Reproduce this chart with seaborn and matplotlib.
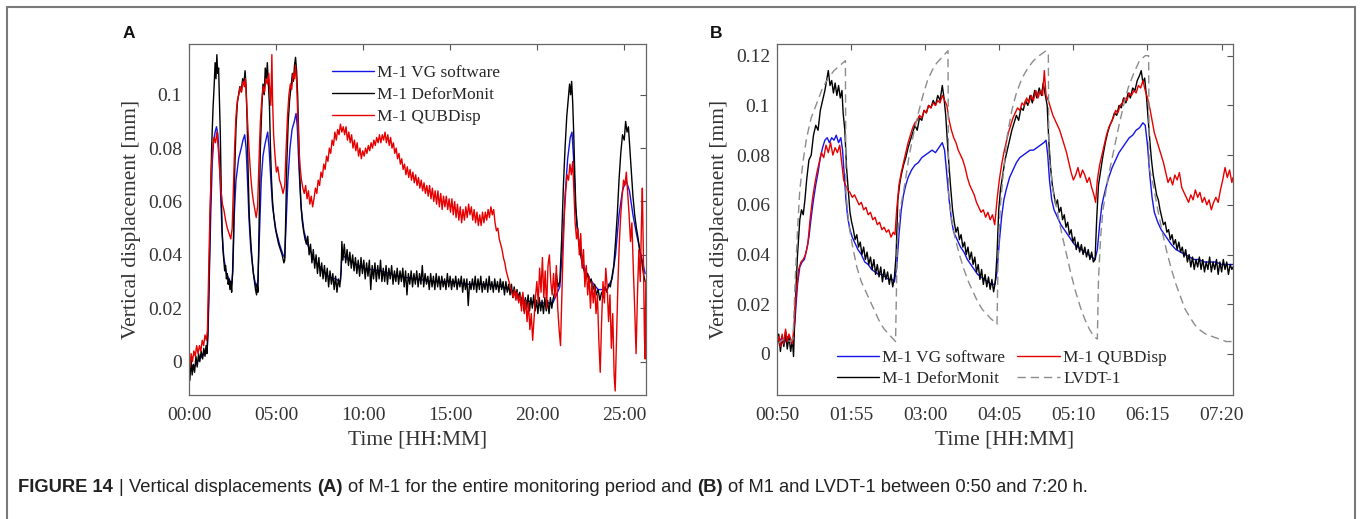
import numpy as np
import pandas as pd
import matplotlib
matplotlib.use("Agg")
import matplotlib.pyplot as plt
from matplotlib.patches import Rectangle
from matplotlib.offsetbox import TextArea, HPacker, AnnotationBbox
import seaborn as sns

# ------------------------------------------------------------
# data
# panel A: time in hours since start, displacement in mm
# ------------------------------------------------------------
A_SERIES = ["M-1 VG software", "M-1 DeforMonit", "M-1 QUBDisp"]

a_vg = [
    (0.00, -0.001), (0.30, -0.002), (0.60, 0.001), (0.90, 0.003), (1.05, 0.005), (1.10, 0.012),
    (1.18, 0.035), (1.26, 0.058), (1.34, 0.075), (1.42, 0.083), (1.50, 0.086), (1.58, 0.088),
    (1.66, 0.085), (1.74, 0.076), (1.82, 0.062), (1.90, 0.048), (2.00, 0.039), (2.15, 0.033),
    (2.30, 0.031), (2.45, 0.029), (2.52, 0.034), (2.60, 0.055), (2.70, 0.068), (2.85, 0.076),
    (3.00, 0.080), (3.10, 0.083), (3.20, 0.085), (3.28, 0.080), (3.36, 0.068), (3.45, 0.053),
    (3.55, 0.042), (3.70, 0.033), (3.85, 0.028), (3.95, 0.030), (4.05, 0.048), (4.15, 0.068),
    (4.25, 0.077), (4.35, 0.081), (4.45, 0.084), (4.52, 0.086), (4.60, 0.080), (4.70, 0.068),
    (4.80, 0.058), (5.00, 0.049), (5.20, 0.044), (5.40, 0.040), (5.50, 0.039), (5.58, 0.052),
    (5.68, 0.068), (5.80, 0.080), (5.92, 0.087), (6.05, 0.090), (6.15, 0.093), (6.22, 0.088),
    (6.32, 0.072), (6.45, 0.057), (6.60, 0.049), (6.80, 0.044), (7.20, 0.038), (7.60, 0.035),
    (8.00, 0.032), (8.40, 0.031), (8.70, 0.030), (8.78, 0.040), (9.20, 0.038), (10.0, 0.035),
    (11.0, 0.034), (12.0, 0.032), (13.0, 0.031), (14.0, 0.030), (15.0, 0.030), (16.0, 0.029),
    (17.0, 0.029), (18.0, 0.028), (18.8, 0.026), (19.2, 0.023), (20.0, 0.022), (20.9, 0.022),
    (21.3, 0.028), (21.45, 0.042), (21.60, 0.062), (21.75, 0.076), (21.90, 0.084), (22.00, 0.086),
    (22.10, 0.075), (22.20, 0.058), (22.35, 0.047), (22.60, 0.037), (23.00, 0.031), (23.50, 0.027),
    (24.00, 0.027), (24.30, 0.031), (24.50, 0.040), (24.70, 0.055), (24.90, 0.064), (25.10, 0.068),
    (25.30, 0.064), (25.50, 0.055), (25.70, 0.048), (26.00, 0.039), (26.20, 0.033),
]

a_defor = [
    (0.00, -0.002), (0.05, -0.007), (0.12, 0.001), (0.18, -0.005), (0.25, -0.001), (0.32, -0.004),
    (0.40, 0.002), (0.47, -0.002), (0.55, 0.003), (0.62, 0.000), (0.70, 0.004), (0.78, 0.001),
    (0.85, 0.005), (0.92, 0.002), (0.98, 0.006), (1.03, 0.003),
    (1.08, 0.010), (1.15, 0.030), (1.22, 0.055), (1.30, 0.080), (1.38, 0.095), (1.45, 0.104),
    (1.50, 0.112), (1.55, 0.106), (1.60, 0.115), (1.65, 0.108), (1.70, 0.110), (1.75, 0.098),
    (1.80, 0.085), (1.85, 0.065), (1.90, 0.050), (1.95, 0.042), (2.00, 0.038), (2.05, 0.034),
    (2.10, 0.036), (2.15, 0.031), (2.20, 0.033), (2.25, 0.029), (2.30, 0.031), (2.35, 0.027),
    (2.40, 0.030), (2.45, 0.026), (2.50, 0.033),
    (2.55, 0.045), (2.62, 0.070), (2.70, 0.088), (2.78, 0.097), (2.85, 0.100), (2.92, 0.103),
    (3.00, 0.101), (3.08, 0.106), (3.15, 0.104), (3.22, 0.109), (3.28, 0.103), (3.34, 0.090),
    (3.40, 0.070), (3.46, 0.055), (3.52, 0.048), (3.58, 0.042), (3.64, 0.037), (3.70, 0.033),
    (3.76, 0.030), (3.82, 0.027), (3.88, 0.025), (3.92, 0.029), (3.96, 0.026),
    (4.02, 0.050), (4.10, 0.080), (4.18, 0.095), (4.25, 0.104), (4.32, 0.100), (4.38, 0.110),
    (4.44, 0.106), (4.50, 0.112), (4.56, 0.104), (4.62, 0.096), (4.68, 0.080), (4.74, 0.068),
    (4.80, 0.060), (4.88, 0.054), (4.96, 0.050), (5.05, 0.047), (5.15, 0.044), (5.25, 0.042),
    (5.35, 0.040), (5.45, 0.037), (5.50, 0.038),
    (5.56, 0.055), (5.62, 0.075), (5.70, 0.090), (5.78, 0.098), (5.86, 0.103), (5.94, 0.108),
    (6.00, 0.105), (6.06, 0.111), (6.12, 0.114), (6.18, 0.109), (6.24, 0.100), (6.30, 0.085),
    (6.36, 0.070), (6.42, 0.060), (6.50, 0.053), (6.58, 0.049), (6.66, 0.046), (6.74, 0.044),
    (6.82, 0.047), (6.90, 0.040), (6.98, 0.044), (7.06, 0.037), (7.14, 0.042), (7.22, 0.035),
    (7.30, 0.040), (7.38, 0.033), (7.46, 0.039), (7.54, 0.032), (7.62, 0.037), (7.70, 0.031),
    (7.78, 0.036), (7.86, 0.030), (7.94, 0.035), (8.02, 0.028), (8.10, 0.034), (8.18, 0.029),
    (8.26, 0.033), (8.34, 0.027), (8.42, 0.032), (8.50, 0.026), (8.58, 0.031), (8.66, 0.028),
    (8.74, 0.034), (8.78, 0.045), (8.84, 0.038), (8.92, 0.044), (9.00, 0.037), (9.08, 0.042),
    (9.16, 0.036), (9.24, 0.041), (9.32, 0.035), (9.40, 0.040), (9.48, 0.034), (9.56, 0.039),
    (9.64, 0.033), (9.72, 0.038), (9.80, 0.032), (9.88, 0.039), (9.96, 0.033), (10.04, 0.038),
    (10.12, 0.031), (10.20, 0.037), (10.28, 0.032), (10.36, 0.038), (10.44, 0.027), (10.52, 0.036),
    (10.60, 0.031), (10.68, 0.037), (10.76, 0.030), (10.84, 0.036), (10.92, 0.031), (11.00, 0.038),
    (11.08, 0.030), (11.16, 0.035), (11.24, 0.030), (11.32, 0.036), (11.40, 0.029), (11.48, 0.035),
    (11.56, 0.031), (11.64, 0.036), (11.72, 0.029), (11.80, 0.034), (11.88, 0.030), (11.96, 0.035),
    (12.04, 0.029), (12.12, 0.034), (12.20, 0.030), (12.28, 0.035), (12.36, 0.028), (12.44, 0.034),
    (12.52, 0.025), (12.60, 0.033), (12.68, 0.029), (12.76, 0.034), (12.84, 0.028), (12.92, 0.033),
    (13.00, 0.029), (13.08, 0.034), (13.16, 0.028), (13.24, 0.033), (13.32, 0.029), (13.40, 0.036),
    (13.48, 0.028), (13.56, 0.033), (13.64, 0.029), (13.72, 0.032), (13.80, 0.027), (13.88, 0.033),
    (13.96, 0.028), (14.04, 0.032), (14.12, 0.027), (14.20, 0.033), (14.28, 0.028), (14.36, 0.032),
    (14.44, 0.027), (14.52, 0.032), (14.60, 0.028), (14.68, 0.031), (14.76, 0.027), (14.84, 0.033),
    (14.92, 0.028), (15.00, 0.032), (15.08, 0.027), (15.16, 0.031), (15.24, 0.028), (15.32, 0.032),
    (15.40, 0.027), (15.48, 0.031), (15.56, 0.028), (15.64, 0.032), (15.72, 0.026), (15.80, 0.031),
    (15.88, 0.027), (15.96, 0.031), (16.04, 0.021), (16.12, 0.030), (16.20, 0.027), (16.28, 0.031),
    (16.36, 0.027), (16.44, 0.032), (16.52, 0.026), (16.60, 0.031), (16.68, 0.027), (16.76, 0.032),
    (16.84, 0.026), (16.92, 0.030), (17.00, 0.027), (17.08, 0.031), (17.16, 0.026), (17.24, 0.032),
    (17.32, 0.027), (17.40, 0.030), (17.48, 0.026), (17.56, 0.031), (17.64, 0.027), (17.72, 0.030),
    (17.80, 0.026), (17.88, 0.031), (17.96, 0.027), (18.04, 0.030), (18.12, 0.025), (18.20, 0.030),
    (18.28, 0.026), (18.36, 0.029), (18.44, 0.025), (18.52, 0.029), (18.60, 0.024), (18.68, 0.028),
    (18.76, 0.024), (18.84, 0.027), (18.92, 0.023), (19.00, 0.026), (19.08, 0.021), (19.16, 0.025),
    (19.24, 0.019), (19.32, 0.024), (19.40, 0.020), (19.48, 0.025), (19.56, 0.019), (19.64, 0.024),
    (19.72, 0.020), (19.80, 0.025), (19.88, 0.019), (19.96, 0.023), (20.04, 0.018), (20.12, 0.024),
    (20.20, 0.019), (20.28, 0.023), (20.36, 0.018), (20.44, 0.024), (20.52, 0.019), (20.60, 0.023),
    (20.68, 0.018), (20.76, 0.024), (20.84, 0.020), (20.90, 0.023), (21.00, 0.026), (21.10, 0.033),
    (21.20, 0.028), (21.30, 0.030),
    (21.40, 0.045), (21.50, 0.065), (21.60, 0.080), (21.70, 0.092), (21.78, 0.098), (21.86, 0.104),
    (21.92, 0.100), (21.98, 0.105), (22.04, 0.097), (22.10, 0.085), (22.16, 0.070), (22.22, 0.058),
    (22.30, 0.050), (22.40, 0.044), (22.50, 0.040), (22.60, 0.036), (22.70, 0.034), (22.80, 0.031),
    (22.90, 0.033), (23.00, 0.029), (23.10, 0.031), (23.20, 0.027), (23.30, 0.029), (23.40, 0.025),
    (23.50, 0.027), (23.60, 0.023), (23.70, 0.026), (23.80, 0.024), (23.90, 0.028), (24.00, 0.026),
    (24.10, 0.029), (24.20, 0.028), (24.30, 0.032), (24.40, 0.036), (24.50, 0.045), (24.60, 0.055),
    (24.70, 0.068), (24.80, 0.078), (24.90, 0.085), (25.00, 0.083), (25.08, 0.090), (25.16, 0.086),
    (25.24, 0.088), (25.32, 0.080), (25.40, 0.072), (25.50, 0.062), (25.60, 0.055), (25.70, 0.050),
    (25.80, 0.046), (25.90, 0.041), (26.00, 0.038), (26.10, 0.033), (26.20, 0.030),
]

a_qub = [
    (0.00, 0.001), (0.06, -0.002), (0.12, 0.003), (0.20, 0.000), (0.28, 0.004), (0.36, 0.002),
    (0.44, 0.006), (0.52, 0.003), (0.60, 0.006), (0.68, 0.004), (0.76, 0.008), (0.84, 0.006),
    (0.92, 0.010), (1.00, 0.008), (1.06, 0.012),
    (1.12, 0.030), (1.20, 0.055), (1.28, 0.072), (1.36, 0.080), (1.44, 0.084), (1.52, 0.082),
    (1.60, 0.086), (1.68, 0.080), (1.76, 0.072), (1.84, 0.064), (1.92, 0.059), (2.00, 0.057),
    (2.10, 0.053), (2.20, 0.050), (2.30, 0.048), (2.40, 0.046), (2.48, 0.050),
    (2.55, 0.065), (2.62, 0.080), (2.70, 0.092), (2.78, 0.098), (2.86, 0.100), (2.94, 0.103),
    (3.02, 0.101), (3.10, 0.105), (3.18, 0.103), (3.24, 0.106), (3.30, 0.098), (3.38, 0.088),
    (3.46, 0.078), (3.54, 0.070), (3.62, 0.064), (3.70, 0.060), (3.78, 0.057), (3.86, 0.054),
    (3.94, 0.058),
    (4.02, 0.075), (4.10, 0.090), (4.18, 0.098), (4.26, 0.103), (4.34, 0.101), (4.42, 0.106),
    (4.50, 0.104), (4.58, 0.108), (4.64, 0.102), (4.70, 0.096), (4.76, 0.115), (4.80, 0.098),
    (4.86, 0.085), (4.94, 0.077), (5.02, 0.071), (5.10, 0.073), (5.20, 0.068), (5.30, 0.066),
    (5.40, 0.063), (5.50, 0.066),
    (5.58, 0.080), (5.66, 0.092), (5.74, 0.100), (5.82, 0.104), (5.90, 0.102), (5.98, 0.108),
    (6.06, 0.106), (6.12, 0.111), (6.18, 0.105), (6.24, 0.094), (6.30, 0.082), (6.38, 0.073),
    (6.46, 0.068), (6.54, 0.065), (6.62, 0.063), (6.70, 0.066), (6.78, 0.061), (6.86, 0.064),
    (6.94, 0.059), (7.02, 0.062), (7.10, 0.058), (7.18, 0.061), (7.26, 0.065), (7.34, 0.063),
    (7.42, 0.068), (7.50, 0.066), (7.58, 0.071), (7.66, 0.069), (7.74, 0.074), (7.82, 0.072),
    (7.90, 0.077), (7.98, 0.075), (8.06, 0.080), (8.14, 0.078), (8.22, 0.083), (8.30, 0.081),
    (8.38, 0.086), (8.46, 0.083), (8.54, 0.087), (8.62, 0.085), (8.70, 0.089), (8.78, 0.086),
    (8.86, 0.088), (8.94, 0.085), (9.02, 0.088), (9.10, 0.083), (9.18, 0.086), (9.26, 0.082),
    (9.34, 0.085), (9.42, 0.080), (9.50, 0.083), (9.58, 0.079), (9.66, 0.082), (9.74, 0.077),
    (9.82, 0.080), (9.90, 0.076), (9.98, 0.079), (10.06, 0.077), (10.14, 0.080), (10.22, 0.078),
    (10.30, 0.081), (10.38, 0.079), (10.46, 0.082), (10.54, 0.080), (10.62, 0.083), (10.70, 0.081),
    (10.78, 0.084), (10.86, 0.082), (10.94, 0.085), (11.02, 0.082), (11.10, 0.085), (11.18, 0.083),
    (11.26, 0.086), (11.34, 0.082), (11.42, 0.085), (11.50, 0.081), (11.58, 0.084), (11.66, 0.080),
    (11.74, 0.082), (11.82, 0.078), (11.90, 0.080), (11.98, 0.076), (12.06, 0.078), (12.14, 0.074),
    (12.22, 0.076), (12.30, 0.072), (12.38, 0.074), (12.46, 0.070), (12.54, 0.073), (12.62, 0.069),
    (12.70, 0.072), (12.78, 0.068), (12.86, 0.071), (12.94, 0.067), (13.02, 0.070), (13.10, 0.066),
    (13.18, 0.069), (13.26, 0.065), (13.34, 0.068), (13.42, 0.064), (13.50, 0.067), (13.58, 0.063),
    (13.66, 0.066), (13.74, 0.062), (13.82, 0.066), (13.90, 0.061), (13.98, 0.065), (14.06, 0.060),
    (14.14, 0.064), (14.22, 0.059), (14.30, 0.064), (14.38, 0.058), (14.46, 0.063), (14.54, 0.057),
    (14.62, 0.062), (14.70, 0.058), (14.78, 0.062), (14.86, 0.057), (14.94, 0.061), (15.02, 0.056),
    (15.10, 0.061), (15.18, 0.055), (15.26, 0.060), (15.34, 0.054), (15.42, 0.059), (15.50, 0.053),
    (15.58, 0.058), (15.66, 0.052), (15.74, 0.057), (15.82, 0.053), (15.90, 0.058), (15.98, 0.054),
    (16.06, 0.059), (16.14, 0.055), (16.22, 0.058), (16.30, 0.053), (16.38, 0.057), (16.46, 0.052),
    (16.54, 0.056), (16.62, 0.051), (16.70, 0.055), (16.78, 0.051), (16.86, 0.056), (16.94, 0.052),
    (17.02, 0.056), (17.10, 0.053), (17.18, 0.057), (17.26, 0.054), (17.34, 0.058), (17.42, 0.055),
    (17.50, 0.057), (17.58, 0.052), (17.66, 0.049), (17.74, 0.050), (17.82, 0.046), (17.90, 0.044),
    (17.98, 0.042), (18.06, 0.039), (18.14, 0.037), (18.22, 0.034), (18.30, 0.032), (18.38, 0.030),
    (18.46, 0.028), (18.54, 0.026), (18.62, 0.024), (18.70, 0.027), (18.78, 0.023), (18.86, 0.026),
    (18.94, 0.022), (19.02, 0.025), (19.10, 0.019), (19.18, 0.026), (19.26, 0.018), (19.34, 0.023),
    (19.42, 0.015), (19.50, 0.022), (19.58, 0.012), (19.66, 0.018), (19.74, 0.008), (19.82, 0.016),
    (19.90, 0.024), (19.98, 0.030), (20.06, 0.022), (20.14, 0.035), (20.22, 0.026), (20.30, 0.039),
    (20.38, 0.024), (20.46, 0.034), (20.54, 0.020), (20.62, 0.036), (20.70, 0.040), (20.78, 0.030),
    (20.86, 0.025), (20.94, 0.033), (21.02, 0.024), (21.10, 0.036), (21.18, 0.020), (21.26, 0.012),
    (21.34, 0.006), (21.40, 0.020), (21.48, 0.040), (21.56, 0.055), (21.64, 0.064), (21.72, 0.070),
    (21.80, 0.068), (21.88, 0.074), (21.96, 0.070), (22.04, 0.075), (22.10, 0.065), (22.18, 0.052),
    (22.26, 0.046), (22.34, 0.050), (22.42, 0.040), (22.50, 0.048), (22.58, 0.035), (22.66, 0.042),
    (22.74, 0.028), (22.82, 0.036), (22.90, 0.025), (22.98, 0.032), (23.06, 0.020), (23.14, 0.030),
    (23.22, 0.022), (23.30, 0.028), (23.38, 0.018), (23.46, 0.025), (23.54, 0.008), (23.62, -0.004),
    (23.70, 0.015), (23.78, 0.030), (23.86, 0.022), (23.94, 0.035), (24.02, 0.028), (24.10, 0.015),
    (24.18, 0.025), (24.26, 0.005), (24.34, 0.018), (24.42, -0.005), (24.48, -0.011), (24.56, 0.010),
    (24.64, 0.030), (24.72, 0.045), (24.80, 0.055), (24.88, 0.062), (24.96, 0.068), (25.04, 0.066),
    (25.12, 0.071), (25.20, 0.063), (25.28, 0.055), (25.36, 0.045), (25.44, 0.052), (25.52, 0.035),
    (25.60, 0.020), (25.68, 0.003), (25.76, 0.025), (25.84, 0.042), (25.92, 0.030), (26.00, 0.055),
    (26.04, 0.065), (26.10, 0.040), (26.16, 0.010), (26.20, 0.001), (26.24, 0.030),
]

a_xticks = [0, 5, 10, 15, 20, 25]
a_xticklabels = ["00:00", "05:00", "10:00", "15:00", "20:00", "25:00"]
a_yticks = [0, 0.02, 0.04, 0.06, 0.08, 0.1]
a_yticklabels = ["0", "0.02", "0.04", "0.06", "0.08", "0.1"]

# ------------------------------------------------------------
# panel B: time in minutes since 00:00
# ------------------------------------------------------------
B_SERIES = ["M-1 VG software", "M-1 DeforMonit", "M-1 QUBDisp", "LVDT-1"]

b_vg = [
    (50, 0.004), (53, 0.006), (56, 0.004), (59, 0.007), (62, 0.005), (64, 0.004), (66, 0.015),
    (68, 0.028), (70, 0.035), (72, 0.037), (74, 0.038), (76, 0.042), (78, 0.047), (80, 0.055),
    (82, 0.062), (84, 0.068), (86, 0.073), (88, 0.079), (90, 0.083), (92, 0.086), (94, 0.087),
    (96, 0.085), (98, 0.087), (100, 0.086), (102, 0.088), (104, 0.085), (106, 0.087), (107.5, 0.082),
    (109, 0.072), (110.5, 0.062), (112, 0.055), (114, 0.050), (116, 0.047), (118, 0.045), (121, 0.042),
    (124, 0.040), (127, 0.037), (130, 0.036), (133, 0.034), (136, 0.033), (139, 0.032), (142, 0.032),
    (145, 0.031), (148, 0.030), (151, 0.030), (153, 0.029), (155, 0.035), (157, 0.048), (159, 0.058),
    (161, 0.064), (163, 0.068), (165, 0.071), (168, 0.074), (171, 0.076), (174, 0.077), (177, 0.079),
    (180, 0.080), (183, 0.081), (186, 0.082), (189, 0.081), (192, 0.083), (195, 0.085), (197, 0.082),
    (199, 0.072), (201, 0.062), (203, 0.054), (205, 0.049), (208, 0.046), (211, 0.043), (214, 0.041),
    (217, 0.038), (220, 0.036), (223, 0.034), (226, 0.032), (229, 0.031), (232, 0.030), (235, 0.029),
    (238, 0.028), (241, 0.028), (243, 0.033), (245, 0.045), (247, 0.055), (249, 0.062), (251, 0.066),
    (254, 0.071), (257, 0.074), (260, 0.077), (263, 0.079), (266, 0.080), (269, 0.081), (272, 0.082),
    (275, 0.082), (278, 0.083), (281, 0.084), (284, 0.085), (286, 0.086), (287.5, 0.080), (289, 0.070),
    (291, 0.062), (293, 0.058), (296, 0.055), (299, 0.052), (302, 0.050), (305, 0.048), (308, 0.046),
    (311, 0.044), (314, 0.043), (317, 0.042), (320, 0.041), (323, 0.040), (326, 0.039), (329, 0.038),
    (331, 0.042), (333, 0.052), (335, 0.060), (338, 0.066), (341, 0.071), (344, 0.075), (347, 0.078),
    (350, 0.081), (353, 0.083), (356, 0.085), (359, 0.087), (362, 0.088), (365, 0.090), (368, 0.091),
    (371, 0.093), (373, 0.092), (375, 0.084), (377, 0.072), (379, 0.063), (381, 0.057), (384, 0.053),
    (387, 0.050), (390, 0.048), (393, 0.046), (396, 0.044), (400, 0.042), (404, 0.041), (408, 0.040),
    (412, 0.039), (416, 0.038), (420, 0.038), (425, 0.037), (430, 0.037), (435, 0.037), (440, 0.036),
    (445, 0.036), (450, 0.036),
]

b_defor = [
    (50, 0.002), (51.5, 0.008), (53, 0.001), (54.5, 0.007), (56, 0.003), (57.5, 0.009), (59, 0.002),
    (60.5, 0.007), (62, 0.001), (63.5, 0.006), (64.5, -0.001), (66, 0.020), (68, 0.040), (70, 0.054),
    (71.5, 0.058), (73, 0.056), (74.5, 0.062), (76, 0.070), (78, 0.078), (80, 0.080), (82, 0.088),
    (84, 0.092), (86, 0.090), (88, 0.098), (90, 0.102), (92, 0.106), (93.5, 0.110), (95, 0.114),
    (96.5, 0.108), (98, 0.110), (99.5, 0.105), (101, 0.109), (102.5, 0.104), (104, 0.108),
    (105.5, 0.103), (107, 0.106), (108, 0.097), (109.5, 0.090), (111, 0.075), (112.5, 0.066),
    (114, 0.057), (115.5, 0.053), (117, 0.050), (118.5, 0.046), (120, 0.048), (121.5, 0.043),
    (123, 0.045), (124.5, 0.040), (126, 0.043), (127.5, 0.038), (129, 0.041), (130.5, 0.036),
    (132, 0.039), (133.5, 0.034), (135, 0.038), (136.5, 0.032), (138, 0.036), (139.5, 0.031),
    (141, 0.035), (142.5, 0.029), (144, 0.034), (145.5, 0.030), (147, 0.033), (148.5, 0.028),
    (150, 0.032), (151.5, 0.027), (153, 0.031),
    (154.5, 0.040), (156, 0.062), (157.5, 0.068), (159, 0.072), (161, 0.076), (163, 0.079),
    (165, 0.083), (167, 0.086), (169, 0.089), (171, 0.092), (173, 0.090), (175, 0.095), (177, 0.094),
    (179, 0.098), (181, 0.097), (183, 0.100), (185, 0.099), (187, 0.102), (189, 0.100), (191, 0.104),
    (193, 0.102), (195, 0.108), (196.5, 0.103), (198, 0.096), (199.5, 0.085), (201, 0.075),
    (202.5, 0.066), (204, 0.058), (205.5, 0.053), (207, 0.049), (208.5, 0.051), (210, 0.046),
    (211.5, 0.048), (213, 0.043), (214.5, 0.045), (216, 0.040), (217.5, 0.043), (219, 0.038),
    (220.5, 0.041), (222, 0.036), (223.5, 0.039), (225, 0.033), (226.5, 0.036), (228, 0.030),
    (229.5, 0.034), (231, 0.028), (232.5, 0.032), (234, 0.027), (235.5, 0.031), (237, 0.026),
    (238.5, 0.030), (240, 0.025), (241.5, 0.029),
    (243, 0.040), (244.5, 0.058), (246, 0.066), (248, 0.072), (250, 0.078), (252, 0.082),
    (254, 0.086), (256, 0.090), (258, 0.093), (260, 0.096), (262, 0.094), (264, 0.099), (266, 0.098),
    (268, 0.102), (270, 0.100), (272, 0.104), (274, 0.101), (276, 0.106), (278, 0.103), (280, 0.107),
    (282, 0.104), (283.5, 0.109), (285, 0.105), (287, 0.100), (288.5, 0.085), (290, 0.075),
    (291.5, 0.068), (293, 0.064), (294.5, 0.060), (296, 0.062), (297.5, 0.057), (299, 0.059),
    (300.5, 0.054), (302, 0.056), (303.5, 0.051), (305, 0.053), (306.5, 0.048), (308, 0.050),
    (309.5, 0.045), (311, 0.047), (312.5, 0.042), (314, 0.045), (315.5, 0.041), (317, 0.044),
    (318.5, 0.040), (320, 0.043), (321.5, 0.039), (323, 0.042), (324.5, 0.038), (326, 0.041),
    (327.5, 0.037), (329, 0.038),
    (330.5, 0.055), (332, 0.068), (334, 0.074), (336, 0.080), (338, 0.085), (340, 0.089),
    (342, 0.092), (344, 0.094), (346, 0.097), (348, 0.096), (350, 0.100), (352, 0.099), (354, 0.103),
    (356, 0.101), (358, 0.105), (360, 0.103), (362, 0.107), (364, 0.106), (366, 0.110), (368, 0.112),
    (369.5, 0.114), (371, 0.109), (372.5, 0.111), (374, 0.104), (375.5, 0.095), (377, 0.086),
    (378.5, 0.078), (380, 0.072), (381.5, 0.068), (383, 0.064), (384.5, 0.062), (386, 0.058),
    (387.5, 0.055), (389, 0.052), (390.5, 0.053), (392, 0.049), (393.5, 0.050), (395, 0.046),
    (396.5, 0.048), (398, 0.044), (399.5, 0.046), (401, 0.042), (402.5, 0.045), (404, 0.041),
    (405.5, 0.043), (407, 0.039), (408.5, 0.042), (410, 0.037), (411.5, 0.040), (413, 0.035),
    (414.5, 0.039), (416, 0.034), (417.5, 0.038), (419, 0.035), (420.5, 0.039), (422, 0.034),
    (423.5, 0.038), (425, 0.033), (426.5, 0.037), (428, 0.034), (429.5, 0.039), (431, 0.033),
    (432.5, 0.037), (434, 0.034), (435.5, 0.038), (437, 0.032), (438.5, 0.037), (440, 0.033),
    (441.5, 0.038), (443, 0.034), (444.5, 0.037), (446, 0.032), (447.5, 0.036), (449, 0.034),
    (450, 0.035),
]

b_qub = [
    (50, 0.004), (51.5, 0.007), (53, 0.003), (54.5, 0.008), (56, 0.004), (57.5, 0.010), (59, 0.005),
    (60.5, 0.008), (62, 0.006), (63.5, 0.004), (65, 0.012), (67, 0.025), (69, 0.034), (71, 0.037),
    (73, 0.038), (75, 0.040), (77, 0.044), (79, 0.054), (81, 0.062), (83, 0.068), (85, 0.073),
    (87, 0.077), (89, 0.081), (91, 0.079), (93, 0.084), (95, 0.081), (97, 0.085), (99, 0.080),
    (101, 0.083), (103, 0.081), (105, 0.084), (107, 0.076), (108.5, 0.070), (110, 0.068),
    (112, 0.066), (114, 0.065), (116, 0.063), (118, 0.064), (120, 0.062), (122, 0.060), (124, 0.061),
    (126, 0.058), (128, 0.059), (130, 0.056), (132, 0.057), (134, 0.054), (136, 0.055), (138, 0.052),
    (140, 0.053), (142, 0.050), (144, 0.051), (146, 0.049), (148, 0.050), (150, 0.047), (152, 0.049),
    (153.5, 0.048),
    (155, 0.058), (157, 0.068), (159, 0.073), (161, 0.077), (163, 0.081), (165, 0.085), (167, 0.088),
    (169, 0.091), (171, 0.093), (173, 0.094), (175, 0.096), (177, 0.095), (179, 0.098), (181, 0.097),
    (183, 0.100), (185, 0.099), (187, 0.101), (189, 0.100), (191, 0.102), (193, 0.101), (195, 0.104),
    (197, 0.102), (199, 0.100), (201, 0.094), (203, 0.090), (205, 0.087), (207, 0.085), (209, 0.082),
    (211, 0.080), (213, 0.078), (215, 0.075), (217, 0.071), (219, 0.068), (221, 0.066), (223, 0.064),
    (225, 0.061), (227, 0.059), (229, 0.057), (231, 0.058), (233, 0.055), (235, 0.057), (237, 0.054),
    (239, 0.056), (241, 0.052),
    (243, 0.062), (245, 0.070), (247, 0.076), (249, 0.081), (251, 0.085), (253, 0.089), (255, 0.092),
    (257, 0.095), (259, 0.097), (261, 0.099), (263, 0.098), (265, 0.101), (267, 0.100), (269, 0.103),
    (271, 0.101), (273, 0.104), (275, 0.102), (277, 0.106), (279, 0.103), (281, 0.106), (283, 0.104),
    (284.5, 0.114), (286, 0.104), (288, 0.102), (290, 0.099), (292, 0.096), (294, 0.094), (296, 0.092),
    (298, 0.090), (300, 0.087), (302, 0.084), (304, 0.081), (306, 0.077), (308, 0.073), (310, 0.070),
    (312, 0.072), (314, 0.075), (316, 0.071), (318, 0.074), (320, 0.072), (322, 0.069), (324, 0.071),
    (326, 0.067), (328, 0.064), (329.5, 0.061),
    (331, 0.070), (333, 0.076), (335, 0.080), (337, 0.084), (339, 0.088), (341, 0.091), (343, 0.093),
    (345, 0.095), (347, 0.098), (349, 0.097), (351, 0.100), (353, 0.101), (355, 0.103), (357, 0.102),
    (359, 0.105), (361, 0.104), (363, 0.106), (365, 0.105), (367, 0.108), (369, 0.107), (371, 0.110),
    (373, 0.106), (375, 0.103), (377, 0.099), (379, 0.094), (381, 0.089), (383, 0.086), (385, 0.083),
    (387, 0.080), (389, 0.077), (391, 0.073), (393, 0.069), (395, 0.071), (397, 0.068), (399, 0.072),
    (401, 0.070), (403, 0.073), (405, 0.067), (407, 0.065), (409, 0.063), (411, 0.061), (413, 0.064),
    (415, 0.062), (417, 0.066), (419, 0.063), (421, 0.065), (423, 0.061), (425, 0.063), (427, 0.060),
    (429, 0.062), (431, 0.058), (433, 0.061), (435, 0.063), (437, 0.061), (439, 0.066), (441, 0.070),
    (443, 0.075), (445, 0.071), (447, 0.074), (449, 0.069), (450, 0.071),
]

b_lvdt = [
    (50, 0.004), (56, 0.006), (62, 0.005), (64, 0.006), (66, 0.030), (68, 0.050), (70, 0.066),
    (73, 0.078), (76, 0.087), (80, 0.095), (85, 0.101), (90, 0.107), (95, 0.111), (100, 0.114),
    (105, 0.116), (110, 0.118), (110.5, 0.065), (113, 0.052), (116, 0.044), (120, 0.035),
    (124, 0.029), (128, 0.025), (132, 0.021), (136, 0.017), (140, 0.013), (144, 0.010), (148, 0.008),
    (152, 0.006), (154, 0.005), (155.5, 0.045), (158, 0.058), (162, 0.068), (166, 0.080),
    (170, 0.089), (174, 0.097), (178, 0.104), (182, 0.110), (186, 0.114), (190, 0.117), (194, 0.119),
    (198, 0.121), (200, 0.122), (200.5, 0.065), (203, 0.055), (206, 0.047), (210, 0.040),
    (214, 0.034), (218, 0.029), (222, 0.025), (226, 0.021), (230, 0.018), (234, 0.016), (238, 0.014),
    (241, 0.013), (243, 0.012), (244, 0.040), (246, 0.060), (249, 0.075), (252, 0.088), (256, 0.098),
    (260, 0.105), (265, 0.111), (270, 0.115), (275, 0.118), (280, 0.120), (286, 0.122), (288, 0.121),
    (288.5, 0.080), (292, 0.066), (296, 0.057), (300, 0.048), (304, 0.040), (308, 0.032),
    (312, 0.025), (316, 0.019), (320, 0.014), (324, 0.010), (328, 0.007), (331, 0.006), (332, 0.030),
    (334, 0.048), (336, 0.058), (340, 0.070), (345, 0.081), (350, 0.092), (354, 0.100), (358, 0.107),
    (363, 0.113), (368, 0.118), (373, 0.120), (376, 0.120), (376.5, 0.075), (380, 0.068),
    (384, 0.058), (388, 0.049), (392, 0.041), (396, 0.034), (400, 0.028), (404, 0.023), (408, 0.018),
    (412, 0.015), (416, 0.012), (420, 0.010), (426, 0.008), (432, 0.007), (438, 0.006), (444, 0.005),
    (450, 0.005),
]

b_xticks = [50, 115, 180, 245, 310, 375, 440]
b_xticklabels = ["00:50", "01:55", "03:00", "04:05", "05:10", "06:15", "07:20"]
b_yticks = [0, 0.02, 0.04, 0.06, 0.08, 0.1, 0.12]
b_yticklabels = ["0", "0.02", "0.04", "0.06", "0.08", "0.1", "0.12"]

COLORS = {"M-1 VG software": "#1414e6", "M-1 DeforMonit": "#000000",
          "M-1 QUBDisp": "#e60000", "LVDT-1": "#8c8c8c"}
DASHES = {"M-1 VG software": "", "M-1 DeforMonit": "",
          "M-1 QUBDisp": "", "LVDT-1": (6, 3.5)}


def long_table(series):
    """series: dict[name] = [(t, v), ...] -> long dataframe for seaborn"""
    frames = []
    for name, pts in series.items():
        arr = np.asarray(pts, dtype=float)
        frames.append(pd.DataFrame({"time": arr[:, 0], "disp": arr[:, 1], "series": name}))
    return pd.concat(frames, ignore_index=True)


def draw_panel(ax, df, order, xlim, ylim, xticks, xlabels, yticks, ylabels):
    sns.lineplot(data=df, x="time", y="disp", hue="series", hue_order=order,
                 palette=COLORS, style="series", style_order=order, dashes=DASHES,
                 estimator=None, sort=False, linewidth=1.0, legend=False, ax=ax)
    ax.set_xlim(*xlim)
    ax.set_ylim(*ylim)
    ax.set_xticks(xticks)
    ax.set_xticklabels(xlabels)
    ax.set_yticks(yticks)
    ax.set_yticklabels(ylabels)
    ax.tick_params(direction="in", top=True, right=True, length=4, width=0.8,
                   color="#555555", labelcolor="#333333", labelsize=14)
    ax.tick_params(axis="x", pad=9)
    ax.tick_params(axis="y", pad=5)
    for sp in ax.spines.values():
        sp.set_color("#666666")
        sp.set_linewidth(0.9)
    ax.set_xlabel("Time [HH:MM]", fontsize=15.5, color="#333333")
    ax.set_ylabel("Vertical displacement [mm]", fontsize=15.5, color="#333333")
    ax.xaxis.set_label_coords(0.5, -0.10)
    ax.yaxis.set_label_coords(-0.105, 0.5)
    return ax.get_lines()


sns.set_theme(style="white")
plt.rcParams["font.family"] = ["Liberation Serif", "DejaVu Serif"]

W, H = 1360, 519
fig = plt.figure(figsize=(W / 100, H / 100), dpi=100)
ax_a = fig.add_axes([189 / W, 1 - 395 / H, 457 / W, 351 / H])
ax_b = fig.add_axes([777 / W, 1 - 395 / H, 456 / W, 351 / H])

df_a = long_table({"M-1 VG software": a_vg, "M-1 DeforMonit": a_defor, "M-1 QUBDisp": a_qub})
lines_a = draw_panel(ax_a, df_a, A_SERIES, (0, 26.25), (-0.0125, 0.119),
                     a_xticks, a_xticklabels, a_yticks, a_yticklabels)
ax_a.legend(lines_a, A_SERIES, loc="upper left", bbox_to_anchor=(0.312, 0.94),
            frameon=False, fontsize=12.4, handlelength=2.45, handletextpad=0.2,
            labelspacing=0.35, borderpad=0, borderaxespad=0)

df_b = long_table({"M-1 VG software": b_vg, "M-1 DeforMonit": b_defor,
                   "M-1 QUBDisp": b_qub, "LVDT-1": b_lvdt})
lines_b = draw_panel(ax_b, df_b, B_SERIES, (50, 450), (-0.0165, 0.1247),
                     b_xticks, b_xticklabels, b_yticks, b_yticklabels)
ax_b.legend(lines_b, B_SERIES, loc="lower left", bbox_to_anchor=(0.131, 0.022), ncol=2,
            frameon=False, fontsize=12.4, handlelength=2.45, handletextpad=0.2,
            labelspacing=0.3, columnspacing=0.7, borderpad=0, borderaxespad=0)

# panel letters
for letter, xpix in (("A", 123), ("B", 710)):
    fig.text(xpix / W, 1 - 34 / H, letter, ha="left", va="center", fontsize=12.5,
             fontweight="bold", family=["Liberation Sans", "DejaVu Sans"], color="#111111")

# caption with bold pieces
cap_font = ["Liberation Sans", "DejaVu Sans"]
pieces = [("FIGURE 14", "bold"), ("|", "normal"), ("Vertical displacements", "normal"),
          ("(A)", "bold"), ("of M-1 for the entire monitoring period and", "normal"),
          ("(B)", "bold"), ("of M1 and LVDT-1 between 0:50 and 7:20 h.", "normal")]
boxes = [TextArea(txt, textprops=dict(fontsize=13.2, fontweight=wt, family=cap_font,
                                      color="#222222")) for txt, wt in pieces]
caption = HPacker(children=boxes, align="baseline", pad=0, sep=4)
fig.add_artist(AnnotationBbox(caption, (18 / W, 1 - 487 / H), xycoords="figure fraction",
                              box_alignment=(0, 0.5), frameon=False, pad=0))

# outer frame of the figure panel
fig.add_artist(Rectangle((7 / W, -0.1), 1348 / W, 1.1 - 7 / H, transform=fig.transFigure,
                         fill=False, edgecolor="#7a7a7a", linewidth=1.5, clip_on=False))

fig.savefig("out.png", dpi=100)
